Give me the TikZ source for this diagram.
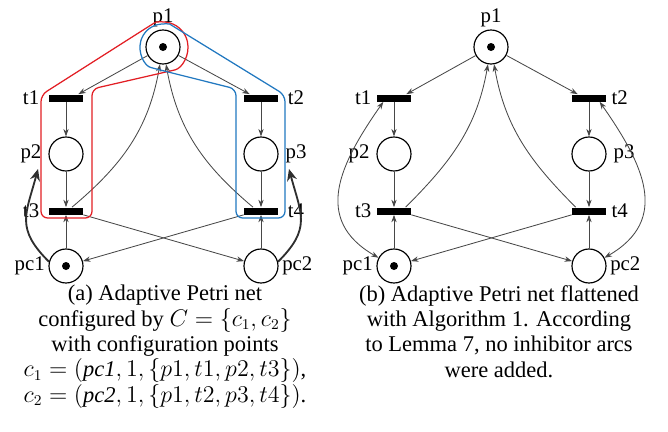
\documentclass[tikz,border=0pt]{standalone}
\usepackage{fontspec}
\setmainfont{Liberation Serif}
\usetikzlibrary{arrows.meta,calc}

\definecolor{cfgred}{RGB}{226,30,36}
\definecolor{cfgblue}{RGB}{33,120,192}

\tikzset{
  place/.style={circle, draw, line width=0.7pt, minimum size=20.4pt, inner sep=0pt},
  transition/.style={rectangle, fill=black, minimum width=20.4pt, minimum height=4.2pt, inner sep=0pt},
  lbl/.style={font=\fontsize{12.5}{14}\selectfont, inner sep=1pt},
  flow/.style={draw=black!72, line width=0.5pt},
  cfgarrow/.style={-{Stealth[length=7pt,width=6pt]}, draw=black!82, line width=1.1pt},
  cfgline/.style={line width=0.75pt, rounded corners=4pt},
  caption/.style={font=\fontsize{13.5}{15.2}\selectfont, align=center, inner sep=0pt}
}

\begin{document}
\begin{tikzpicture}[x=0.6pt, y=0.6pt, >={Stealth[length=4.5pt,width=3.2pt]}]
\useasboundingbox (0,0) rectangle (668,431);

% (a) net with configuration points
\node[place, label={[lbl]above:p1}] (p1a) at (163,384) {};
\node[transition, label={[lbl, xshift=-4.5pt]left:t1}] (t1a) at (66,333) {};
\node[transition, label={[lbl, xshift=4.5pt]right:t2}] (t2a) at (261,333) {};
\node[place, label={[lbl, xshift=-3pt]left:p2}] (p2a) at (66,277) {};
\node[place, label={[lbl, xshift=3pt]right:p3}] (p3a) at (261,277) {};
\node[transition, label={[lbl, xshift=-4.5pt]left:t3}] (t3a) at (66,220) {};
\node[transition, label={[lbl, xshift=4.5pt]right:t4}] (t4a) at (261,220) {};
\node[place, label={[lbl, xshift=-1pt]left:pc1}] (pc1a) at (66,165) {};
\node[place, label={[lbl, xshift=1pt]right:pc2}] (pc2a) at (261,165) {};
\fill (p1a) circle (2.4pt);
\fill (pc1a) circle (2.4pt);

\draw[->, flow] (p1a) -- ([xshift=-3pt]t1a.north east);
\draw[->, flow] (p1a) -- ([xshift=3.6pt]t2a.north west);
\draw[->, flow] (t1a) -- (p2a);
\draw[->, flow] (p2a) -- (t3a);
\draw[->, flow] (t2a) -- (p3a);
\draw[->, flow] (p3a) -- (t4a);
\draw[->, flow] (pc1a) -- (t3a);
\draw[->, flow] (pc2a) -- (t4a);
\draw[->, flow] ([xshift=3.6pt]t3a.north) to[out=40, in=-100] (p1a);
\draw[->, flow] ([xshift=-4.8pt]t4a.north) to[out=140, in=-80] (p1a);
\draw[->, flow] (t3a.south east) -- (pc2a);
\draw[->, flow] (t4a.south west) -- (pc1a);

% configuration regions
\draw[cfgline, cfgred] (92,342) -- ($(p1a)+(-77:25)$) arc[start angle=-77, end angle=122, radius=25]
  -- (41,336) -- (41,213) -- (92,213) -- cycle;
\draw[cfgline, cfgblue] (236,342) -- ($(p1a)+(254.6:23)$) arc[start angle=254.6, end angle=58.4, radius=23]
  -- (285,336) -- (285,213) -- (236,213) -- cycle;
\coordinate (c1in) at (38,262);
\coordinate (c2in) at (289,262);
\draw[cfgarrow] (pc1a.166) to[out=135, in=-105, looseness=1.3] (c1in);
\draw[cfgarrow] (pc2a.14) to[out=45, in=-75, looseness=1.3] (c2in);

% (b) flattened net
\node[place, label={[lbl]above:p1}] (p1b) at (491,384) {};
\node[transition, label={[lbl, xshift=-2pt]left:t1}] (t1b) at (394,333) {};
\node[transition, label={[lbl, xshift=2pt]right:t2}] (t2b) at (589,333) {};
\node[place, label={[lbl, xshift=-3pt]left:p2}] (p2b) at (394,277) {};
\node[place, label={[lbl, xshift=3pt]right:p3}] (p3b) at (589,277) {};
\node[transition, label={[lbl, xshift=-2pt]left:t3}] (t3b) at (394,220) {};
\node[transition, label={[lbl, xshift=2pt]right:t4}] (t4b) at (589,220) {};
\node[place, label={[lbl, xshift=-1pt]left:pc1}] (pc1b) at (394,165) {};
\node[place, label={[lbl, xshift=1pt]right:pc2}] (pc2b) at (589,165) {};
\fill (p1b) circle (2.4pt);
\fill (pc1b) circle (2.4pt);

\draw[->, flow] (p1b) -- ([xshift=-3pt]t1b.north east);
\draw[->, flow] (p1b) -- ([xshift=3.6pt]t2b.north west);
\draw[->, flow] (t1b) -- (p2b);
\draw[->, flow] (p2b) -- (t3b);
\draw[->, flow] (t2b) -- (p3b);
\draw[->, flow] (p3b) -- (t4b);
\draw[->, flow] (pc1b) -- (t3b);
\draw[->, flow] (pc2b) -- (t4b);
\draw[->, flow] ([xshift=7pt]t3b.north) to[out=45, in=-100] (p1b);
\draw[->, flow] ([xshift=-8pt]t4b.north) to[out=135, in=-80] (p1b);
\draw[->, flow] (t3b.south east) -- (pc2b);
\draw[->, flow] (t4b.south west) -- (pc1b);
\draw[<->, flow] ([xshift=4pt]t1b.south west) to[out=235, in=150, looseness=1.25] (pc1b.152);
\draw[<->, flow] ([xshift=-4pt]t2b.south east) to[out=-55, in=30, looseness=1.25] (pc2b.28);

% captions
\node[caption, anchor=north] (capa) at (165,146) {(a) Adaptive Petri net\\
  configured by $C=\{c_1,c_2\}$\\
  with configuration points\\
  $c_1=(\mathit{pc1},1,\{p1,t1,p2,t3\})$,\\
  $c_2=(\mathit{pc2},1,\{p1,t2,p3,t4\})$.};
\node[caption, anchor=north] (capb) at (499,146) {(b) Adaptive Petri net flattened\\
  with Algorithm 1. According\\
  to Lemma 7, no inhibitor arcs\\
  were added.};
\end{tikzpicture}
\end{document}
